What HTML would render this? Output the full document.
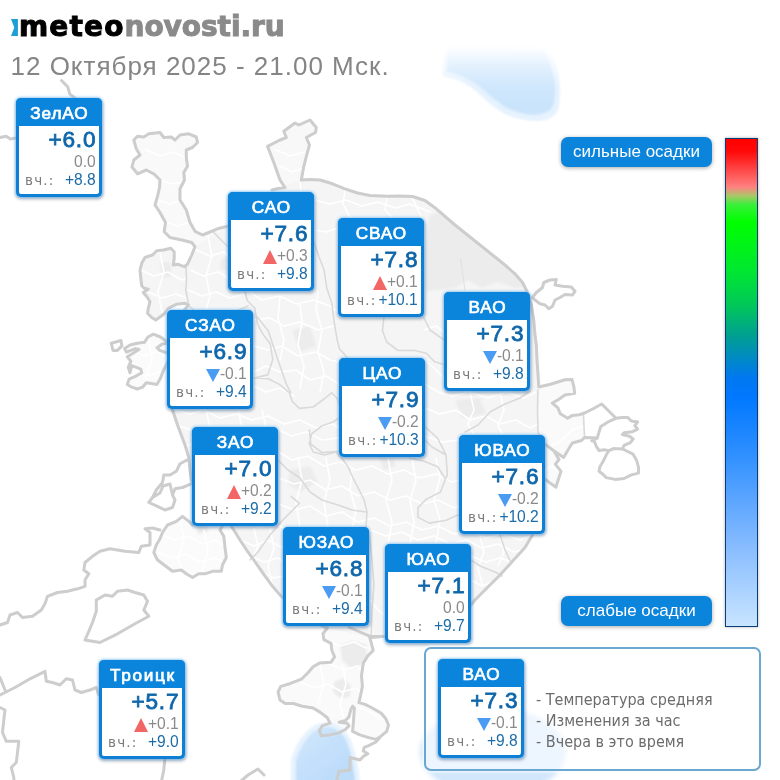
<!DOCTYPE html>
<html lang="ru">
<head>
<meta charset="utf-8">
<title>meteonovosti.ru</title>
<style>
html,body{margin:0;padding:0;background:#fff;}
#page{position:relative;width:780px;height:780px;overflow:hidden;background:#fff;font-family:"Liberation Sans",sans-serif;}
#map{position:absolute;left:0;top:0;}
.logo{position:absolute;left:10px;top:8.6px;height:36px;line-height:36px;font-family:"DejaVu Sans","Liberation Sans",sans-serif;font-size:28px;font-weight:bold;white-space:nowrap;letter-spacing:.36px;}
.logo .lg{position:absolute;left:1px;top:10.8px;}
.logo .m1{color:#000;margin-left:9px;letter-spacing:1.15px;-webkit-text-stroke:1px #000;}
.logo .m2{color:#8a8a8a;letter-spacing:-.05px;-webkit-text-stroke:1px #8a8a8a;}
.date{position:absolute;left:10.5px;top:50px;font-size:26px;line-height:32px;color:#858585;white-space:nowrap;letter-spacing:1px;}
.card{position:absolute;width:86px;height:99px;box-sizing:border-box;background:#fff;border:3px solid #0d80d6;border-top-width:0;border-radius:5px;box-shadow:0 0 2.5px 0.5px rgba(120,190,245,.7),.5px 2px 3.5px rgba(0,10,40,.33);}
.card .hd{position:absolute;left:-3px;top:0;width:86px;height:27.5px;background:#0b84dc;border-radius:5px 5px 0 0;color:#fff;font-size:17.2px;line-height:30.3px;text-align:center;-webkit-text-stroke:0.7px #fff;letter-spacing:.9px;text-indent:.9px;}
.card .t{position:absolute;right:2.6px;top:28.5px;font-size:22.6px;font-weight:normal;color:#0e66aa;-webkit-text-stroke:0.8px #0e66aa;line-height:26px;white-space:nowrap;letter-spacing:.85px;}
.card .c{position:absolute;right:3.5px;top:55.2px;font-size:15.6px;color:#8a8a8a;line-height:18px;white-space:nowrap;letter-spacing:-.1px;}
.card .y{position:absolute;left:0;right:3.5px;top:73.2px;font-size:15.6px;line-height:18px;white-space:nowrap;text-align:right;letter-spacing:-.1px;}
.card .y em{position:absolute;left:6px;top:-.5px;font-style:normal;font-family:"DejaVu Sans","Liberation Sans",sans-serif;font-size:13.5px;letter-spacing:1.2px;color:#7c7c7c;}
.card .y b{font-weight:normal;color:#1b6ca8;}
.tri{display:inline-block;width:0;height:0;border-left:7px solid transparent;border-right:7px solid transparent;vertical-align:-2.6px;margin-right:.5px;}
.tri.up{border-bottom:14px solid #f26666;}
.tri.down{border-top:13.5px solid #4a9cf2;vertical-align:-3px;margin-right:0;}
.btn{position:absolute;left:561px;width:151px;height:30px;border-radius:7px;background:#0b84dc;color:#fff;font-size:17px;line-height:30px;text-align:center;box-shadow:0 1px 4px rgba(0,0,0,.35);}
.bar{position:absolute;left:725px;top:138px;width:33px;height:489px;box-sizing:border-box;border:1px solid #0a3c78;background:linear-gradient(to bottom,#ff0000 0%,#ff0808 2.5%,#ff8080 9.8%,#a8c868 11.7%,#38f038 13.5%,#00ff00 17%,#00e830 27%,#00c858 34%,#00a090 40.3%,#0088c8 45.4%,#0078f0 49%,#0078ff 53%,#3090ff 65%,#80b8ff 82%,#c8e4ff 100%);box-shadow:0 0 3px rgba(0,0,0,.3);}
.legend{position:absolute;left:424px;top:647px;width:337px;height:124px;box-sizing:border-box;border:2px solid #6aa7d1;border-radius:7px;background:rgba(255,255,255,.6);box-shadow:0 0 3px 1px rgba(255,255,255,.9);}
.legend .lt{position:absolute;left:110px;font-size:16px;line-height:20px;color:#6c6c6c;white-space:nowrap;font-family:"DejaVu Sans Condensed","DejaVu Sans","Liberation Sans",sans-serif;}

</style>
</head>
<body>
<div id="page">
<svg id="map" width="780" height="780" viewBox="0 0 780 780">
<defs><filter id="b6" x="-30%" y="-30%" width="160%" height="160%"><feGaussianBlur stdDeviation="5"/></filter><filter id="b3" x="-30%" y="-30%" width="160%" height="160%"><feGaussianBlur stdDeviation="2.5"/></filter><filter id="b1" x="-5%" y="-5%" width="110%" height="110%"><feGaussianBlur stdDeviation="0.45"/></filter><filter id="b08" x="-10%" y="-10%" width="120%" height="120%"><feGaussianBlur stdDeviation="0.9"/></filter><linearGradient id="gtop" gradientUnits="userSpaceOnUse" x1="0" y1="46" x2="0" y2="104"><stop offset="0" stop-color="#d6ebfd" stop-opacity="0"/><stop offset="0.3" stop-color="#d8ecfd" stop-opacity="0.5"/><stop offset="0.7" stop-color="#d0e7fc" stop-opacity="1"/><stop offset="1" stop-color="#cae4fc"/></linearGradient><linearGradient id="gbot" gradientUnits="userSpaceOnUse" x1="300" y1="725" x2="345" y2="780"><stop offset="0" stop-color="#d3e8fc"/><stop offset="0.5" stop-color="#c4e0fb"/><stop offset="1" stop-color="#bcdcfa"/></linearGradient><linearGradient id="grim" gradientUnits="userSpaceOnUse" x1="0" y1="50" x2="0" y2="84"><stop offset="0" stop-color="#e8f3fe" stop-opacity="0"/><stop offset="1" stop-color="#e6f2fe" stop-opacity="1"/></linearGradient></defs>
<clipPath id="cityclip"><path d="M272.0 190.0 L278.0 188.5 L285.0 187.5 L280.0 180.0 L273.8 162.5 L267.5 146.3 L280.0 140.0 L286.3 137.5 L283.8 131.3 L295.0 123.0 L298.8 125.0 L310.0 120.0 L316.3 127.5 L315.5 132.5 L306.3 137.5 L309.5 145.0 L307.0 153.8 L303.8 166.3 L301.3 180.0 L301.3 180.0 L310.0 179.5 L320.0 180.0 L332.5 183.8 L345.0 188.8 L357.5 193.0 L370.0 195.5 L387.5 196.3 L400.0 196.0 L412.5 196.5 L425.0 200.5 L436.3 208.8 L445.0 216.3 L455.0 225.0 L467.5 235.0 L480.0 245.0 L492.5 255.0 L505.0 265.0 L515.0 273.8 L522.5 282.5 L527.5 292.5 L531.3 305.0 L533.8 320.0 L535.0 335.0 L536.3 345.0 L537.0 360.0 L538.0 374.4 L538.8 387.0 L538.8 387.0 L550.5 384.2 L564.9 379.7 L572.0 379.4 L573.9 386.9 L574.7 393.2 L564.9 395.0 L558.6 399.5 L552.3 403.0 L557.7 407.6 L560.4 413.8 L567.6 418.3 L572.0 415.6 L579.2 414.7 L584.6 413.0 L584.6 437.5 L581.5 440.5 L572.3 443.0 L568.2 449.7 L563.6 457.4 L553.8 450.8 L545.6 444.6 L553.8 450.8 L559.0 459.5 L555.4 464.1 L561.0 471.3 L558.0 480.5 L555.9 487.2 L550.8 483.6 L545.6 479.5 L545.6 479.5 L545.0 500.0 L540.0 520.0 L532.5 535.0 L532.5 535.0 L525.0 547.5 L512.5 561.3 L500.0 575.0 L487.5 587.5 L475.0 600.0 L471.0 605.0 L465.0 612.0 L450.0 622.0 L430.0 630.0 L410.0 635.0 L385.0 636.3 L371.3 637.5 L369.6 637.1 L371.4 643.3 L373.2 650.5 L367.8 655.9 L363.3 663.1 L361.5 675.6 L362.4 686.4 L360.6 695.4 L358.9 702.6 L365.1 704.4 L372.3 708.0 L381.3 713.3 L385.8 718.7 L388.5 725.0 L386.7 731.3 L380.4 736.7 L375.9 739.4 L368.7 737.6 L359.8 734.9 L352.6 731.3 L352.6 731.3 L353.5 720.5 L354.4 708.0 L352.6 706.2 L350.8 709.7 L349.0 716.9 L345.4 720.5 L339.1 722.3 L347.2 723.2 L349.0 725.9 L345.4 729.5 L338.2 733.1 L329.2 734.9 L321.2 735.8 L319.4 730.4 L322.1 725.9 L330.1 723.2 L327.4 717.8 L320.3 712.4 L313.1 708.0 L302.3 706.2 L293.3 703.5 L285.3 703.5 L279.9 699.9 L278.1 691.8 L280.8 686.4 L289.7 683.7 L301.4 679.2 L307.7 673.0 L313.1 666.7 L319.4 663.1 L331.0 662.2 L334.6 656.8 L331.9 650.5 L331.0 643.3 L323.9 639.7 L323.0 633.5 L327.4 628.1 L327.4 628.1 L310.0 620.0 L295.0 609.0 L280.0 595.0 L272.5 586.3 L262.5 572.5 L253.8 560.0 L247.5 551.3 L240.0 540.0 L233.8 530.0 L226.0 518.0 L226.0 518.0 L215.0 505.0 L200.0 492.0 L191.3 480.0 L190.0 470.0 L188.8 457.5 L185.0 445.0 L177.5 425.0 L172.5 410.0 L170.0 395.0 L169.0 370.0 L172.0 345.0 L178.0 325.0 L183.0 312.0 L188.3 305.0 L188.3 305.0 L185.0 303.3 L176.7 304.2 L168.3 308.3 L164.0 314.0 L161.7 315.8 L155.8 320.0 L151.7 317.5 L147.5 313.3 L148.3 308.3 L150.0 301.7 L147.5 297.5 L143.3 292.5 L148.3 289.2 L144.2 288.3 L141.7 285.8 L140.8 278.3 L140.0 270.0 L141.7 263.3 L145.0 257.5 L152.5 255.0 L156.7 250.8 L163.3 250.0 L170.8 248.3 L174.2 251.7 L174.2 258.3 L173.3 265.0 L177.5 264.2 L184.2 266.7 L187.5 264.2 L191.7 255.0 L195.0 246.7 L195.0 246.7 L191.7 242.5 L181.7 240.0 L170.0 237.5 L164.2 231.7 L165.5 222.5 L160.0 212.5 L155.0 205.0 L157.5 196.3 L159.5 187.5 L160.0 180.0 L153.8 173.8 L146.3 170.0 L137.5 173.8 L132.0 167.0 L133.8 160.0 L140.0 155.0 L136.3 148.8 L133.8 140.0 L137.5 136.3 L143.8 137.0 L148.8 133.8 L160.0 132.5 L163.8 137.5 L171.3 137.0 L175.0 140.0 L180.0 135.0 L188.8 133.8 L196.3 137.0 L197.5 142.5 L192.5 147.5 L186.3 150.0 L186.3 157.5 L187.5 166.3 L183.8 172.5 L184.5 180.0 L180.0 188.8 L180.0 200.0 L186.3 210.0 L190.0 222.5 L195.0 231.3 L202.5 235.0 L208.8 232.5 L217.5 228.8 L227.5 226.3 L227.5 226.3 L238.0 214.0 L250.0 203.0 L262.0 194.0 L272.0 190.0Z"/><path d="M226.0 520.0 L220.0 530.0 L223.8 536.3 L225.0 547.5 L226.3 557.5 L222.5 565.0 L221.3 571.3 L212.5 571.3 L205.0 573.8 L198.8 573.8 L192.5 577.5 L186.3 573.8 L181.3 570.0 L172.5 571.3 L167.5 567.5 L162.5 563.8 L157.5 560.0 L153.8 552.5 L156.3 545.0 L160.0 538.8 L162.5 532.5 L167.5 525.0 L176.3 521.3 L182.5 516.3 L188.8 521.3 L192.5 525.0Z"/><path d="M167.7 342.3 L160.5 337.0 L153.3 334.2 L148.0 337.0 L144.4 342.3 L137.2 343.2 L130.0 345.0 L124.6 348.6 L126.4 352.2 L135.4 348.6 L139.0 349.5 L131.8 354.0 L127.3 356.7 L130.9 361.2 L128.2 367.4 L130.0 372.8 L131.8 365.6 L140.8 369.2 L141.7 372.8 L135.4 376.4 L129.1 379.1 L127.3 384.5 L131.8 387.2 L137.2 389.0 L142.6 387.2 L146.2 382.7 L151.6 383.6 L156.9 384.5 L160.5 378.2 L163.2 371.0 L165.9 365.6 L167.7 362.0 L171.0 355.0Z"/></clipPath>
<path d="M272.0 190.0 L278.0 188.5 L285.0 187.5 L280.0 180.0 L273.8 162.5 L267.5 146.3 L280.0 140.0 L286.3 137.5 L283.8 131.3 L295.0 123.0 L298.8 125.0 L310.0 120.0 L316.3 127.5 L315.5 132.5 L306.3 137.5 L309.5 145.0 L307.0 153.8 L303.8 166.3 L301.3 180.0 L301.3 180.0 L310.0 179.5 L320.0 180.0 L332.5 183.8 L345.0 188.8 L357.5 193.0 L370.0 195.5 L387.5 196.3 L400.0 196.0 L412.5 196.5 L425.0 200.5 L436.3 208.8 L445.0 216.3 L455.0 225.0 L467.5 235.0 L480.0 245.0 L492.5 255.0 L505.0 265.0 L515.0 273.8 L522.5 282.5 L527.5 292.5 L531.3 305.0 L533.8 320.0 L535.0 335.0 L536.3 345.0 L537.0 360.0 L538.0 374.4 L538.8 387.0 L538.8 387.0 L550.5 384.2 L564.9 379.7 L572.0 379.4 L573.9 386.9 L574.7 393.2 L564.9 395.0 L558.6 399.5 L552.3 403.0 L557.7 407.6 L560.4 413.8 L567.6 418.3 L572.0 415.6 L579.2 414.7 L584.6 413.0 L584.6 437.5 L581.5 440.5 L572.3 443.0 L568.2 449.7 L563.6 457.4 L553.8 450.8 L545.6 444.6 L553.8 450.8 L559.0 459.5 L555.4 464.1 L561.0 471.3 L558.0 480.5 L555.9 487.2 L550.8 483.6 L545.6 479.5 L545.6 479.5 L545.0 500.0 L540.0 520.0 L532.5 535.0 L532.5 535.0 L525.0 547.5 L512.5 561.3 L500.0 575.0 L487.5 587.5 L475.0 600.0 L471.0 605.0 L465.0 612.0 L450.0 622.0 L430.0 630.0 L410.0 635.0 L385.0 636.3 L371.3 637.5 L369.6 637.1 L371.4 643.3 L373.2 650.5 L367.8 655.9 L363.3 663.1 L361.5 675.6 L362.4 686.4 L360.6 695.4 L358.9 702.6 L365.1 704.4 L372.3 708.0 L381.3 713.3 L385.8 718.7 L388.5 725.0 L386.7 731.3 L380.4 736.7 L375.9 739.4 L368.7 737.6 L359.8 734.9 L352.6 731.3 L352.6 731.3 L353.5 720.5 L354.4 708.0 L352.6 706.2 L350.8 709.7 L349.0 716.9 L345.4 720.5 L339.1 722.3 L347.2 723.2 L349.0 725.9 L345.4 729.5 L338.2 733.1 L329.2 734.9 L321.2 735.8 L319.4 730.4 L322.1 725.9 L330.1 723.2 L327.4 717.8 L320.3 712.4 L313.1 708.0 L302.3 706.2 L293.3 703.5 L285.3 703.5 L279.9 699.9 L278.1 691.8 L280.8 686.4 L289.7 683.7 L301.4 679.2 L307.7 673.0 L313.1 666.7 L319.4 663.1 L331.0 662.2 L334.6 656.8 L331.9 650.5 L331.0 643.3 L323.9 639.7 L323.0 633.5 L327.4 628.1 L327.4 628.1 L310.0 620.0 L295.0 609.0 L280.0 595.0 L272.5 586.3 L262.5 572.5 L253.8 560.0 L247.5 551.3 L240.0 540.0 L233.8 530.0 L226.0 518.0 L226.0 518.0 L215.0 505.0 L200.0 492.0 L191.3 480.0 L190.0 470.0 L188.8 457.5 L185.0 445.0 L177.5 425.0 L172.5 410.0 L170.0 395.0 L169.0 370.0 L172.0 345.0 L178.0 325.0 L183.0 312.0 L188.3 305.0 L188.3 305.0 L185.0 303.3 L176.7 304.2 L168.3 308.3 L164.0 314.0 L161.7 315.8 L155.8 320.0 L151.7 317.5 L147.5 313.3 L148.3 308.3 L150.0 301.7 L147.5 297.5 L143.3 292.5 L148.3 289.2 L144.2 288.3 L141.7 285.8 L140.8 278.3 L140.0 270.0 L141.7 263.3 L145.0 257.5 L152.5 255.0 L156.7 250.8 L163.3 250.0 L170.8 248.3 L174.2 251.7 L174.2 258.3 L173.3 265.0 L177.5 264.2 L184.2 266.7 L187.5 264.2 L191.7 255.0 L195.0 246.7 L195.0 246.7 L191.7 242.5 L181.7 240.0 L170.0 237.5 L164.2 231.7 L165.5 222.5 L160.0 212.5 L155.0 205.0 L157.5 196.3 L159.5 187.5 L160.0 180.0 L153.8 173.8 L146.3 170.0 L137.5 173.8 L132.0 167.0 L133.8 160.0 L140.0 155.0 L136.3 148.8 L133.8 140.0 L137.5 136.3 L143.8 137.0 L148.8 133.8 L160.0 132.5 L163.8 137.5 L171.3 137.0 L175.0 140.0 L180.0 135.0 L188.8 133.8 L196.3 137.0 L197.5 142.5 L192.5 147.5 L186.3 150.0 L186.3 157.5 L187.5 166.3 L183.8 172.5 L184.5 180.0 L180.0 188.8 L180.0 200.0 L186.3 210.0 L190.0 222.5 L195.0 231.3 L202.5 235.0 L208.8 232.5 L217.5 228.8 L227.5 226.3 L227.5 226.3 L238.0 214.0 L250.0 203.0 L262.0 194.0 L272.0 190.0Z" fill="#f5f5f5"/>
<path d="M369.6 637.1 L371.4 643.3 L373.2 650.5 L367.8 655.9 L363.3 663.1 L361.5 675.6 L362.4 686.4 L360.6 695.4 L358.9 702.6 L365.1 704.4 L372.3 708.0 L381.3 713.3 L385.8 718.7 L388.5 725.0 L386.7 731.3 L380.4 736.7 L375.9 739.4 L368.7 737.6 L359.8 734.9 L352.6 731.3 L352.6 731.3 L353.5 720.5 L354.4 708.0 L352.6 706.2 L350.8 709.7 L349.0 716.9 L345.4 720.5 L339.1 722.3 L347.2 723.2 L349.0 725.9 L345.4 729.5 L338.2 733.1 L329.2 734.9 L321.2 735.8 L319.4 730.4 L322.1 725.9 L330.1 723.2 L327.4 717.8 L320.3 712.4 L313.1 708.0 L302.3 706.2 L293.3 703.5 L285.3 703.5 L279.9 699.9 L278.1 691.8 L280.8 686.4 L289.7 683.7 L301.4 679.2 L307.7 673.0 L313.1 666.7 L319.4 663.1 L331.0 662.2 L334.6 656.8 L331.9 650.5 L331.0 643.3 L323.9 639.7 L323.0 633.5 L327.4 628.1Z" fill="#fafafa"/>
<path d="M195.0 246.7 L191.7 242.5 L181.7 240.0 L170.0 237.5 L164.2 231.7 L165.5 222.5 L160.0 212.5 L155.0 205.0 L157.5 196.3 L159.5 187.5 L160.0 180.0 L153.8 173.8 L146.3 170.0 L137.5 173.8 L132.0 167.0 L133.8 160.0 L140.0 155.0 L136.3 148.8 L133.8 140.0 L137.5 136.3 L143.8 137.0 L148.8 133.8 L160.0 132.5 L163.8 137.5 L171.3 137.0 L175.0 140.0 L180.0 135.0 L188.8 133.8 L196.3 137.0 L197.5 142.5 L192.5 147.5 L186.3 150.0 L186.3 157.5 L187.5 166.3 L183.8 172.5 L184.5 180.0 L180.0 188.8 L180.0 200.0 L186.3 210.0 L190.0 222.5 L195.0 231.3 L202.5 235.0 L208.8 232.5 L217.5 228.8 L227.5 226.3Z" fill="#f9f9f9"/>
<path d="M538.0 389.0 L538.8 387.0 L550.5 384.2 L564.9 379.7 L572.0 379.4 L573.9 386.9 L574.7 393.2 L564.9 395.0 L558.6 399.5 L552.3 403.0 L557.7 407.6 L560.4 413.8 L567.6 418.3 L572.0 415.6 L579.2 414.7 L584.6 413.0 L584.6 437.5 L581.5 440.5 L572.3 443.0 L568.2 449.7 L563.6 457.4 L553.8 450.8 L545.6 444.6 L553.8 450.8 L559.0 459.5 L555.4 464.1 L561.0 471.3 L558.0 480.5 L555.9 487.2 L550.8 483.6 L545.6 479.5 L538.0 470.0Z" fill="#fafafa"/>
<path d="M272.0 190.0 L278.0 188.5 L285.0 187.5 L280.0 180.0 L273.8 162.5 L267.5 146.3 L280.0 140.0 L286.3 137.5 L283.8 131.3 L295.0 123.0 L298.8 125.0 L310.0 120.0 L316.3 127.5 L315.5 132.5 L306.3 137.5 L309.5 145.0 L307.0 153.8 L303.8 166.3 L301.3 180.0Z" fill="#f8f8f8"/>
<path d="M226.0 520.0 L220.0 530.0 L223.8 536.3 L225.0 547.5 L226.3 557.5 L222.5 565.0 L221.3 571.3 L212.5 571.3 L205.0 573.8 L198.8 573.8 L192.5 577.5 L186.3 573.8 L181.3 570.0 L172.5 571.3 L167.5 567.5 L162.5 563.8 L157.5 560.0 L153.8 552.5 L156.3 545.0 L160.0 538.8 L162.5 532.5 L167.5 525.0 L176.3 521.3 L182.5 516.3 L188.8 521.3 L192.5 525.0Z" fill="#fbfbfb"/>
<path d="M167.7 342.3 L160.5 337.0 L153.3 334.2 L148.0 337.0 L144.4 342.3 L137.2 343.2 L130.0 345.0 L124.6 348.6 L126.4 352.2 L135.4 348.6 L139.0 349.5 L131.8 354.0 L127.3 356.7 L130.9 361.2 L128.2 367.4 L130.0 372.8 L131.8 365.6 L140.8 369.2 L141.7 372.8 L135.4 376.4 L129.1 379.1 L127.3 384.5 L131.8 387.2 L137.2 389.0 L142.6 387.2 L146.2 382.7 L151.6 383.6 L156.9 384.5 L160.5 378.2 L163.2 371.0 L165.9 365.6 L167.7 362.0 L171.0 355.0Z" fill="#fbfbfb"/>
<g id="patches" fill="#ececec" filter="url(#b08)"><path d="M429.0 216.0 L440.0 211.0 L461.0 230.0 L482.0 248.0 L503.0 265.0 L518.0 277.0 L524.0 286.0 L515.0 288.0 L498.0 282.0 L482.0 288.0 L468.0 280.0 L457.0 287.0 L445.0 289.0 L426.0 291.0 L425.0 260.0 L427.0 232.0Z"/><path d="M340.0 645.0 L352.0 641.0 L366.0 644.0 L367.0 656.0 L360.0 666.0 L350.0 668.0 L342.0 660.0Z"/><path d="M334.0 682.0 L344.0 678.0 L351.0 686.0 L350.0 697.0 L340.0 698.0 L333.0 692.0Z"/><path d="M290.0 470.0 L310.0 466.0 L318.0 482.0 L300.0 492.0 L288.0 484.0Z"/><path d="M222.0 258.0 L236.0 254.0 L242.0 266.0 L230.0 274.0 L220.0 268.0Z"/><path d="M292.0 330.0 L310.0 326.0 L316.0 346.0 L300.0 352.0Z"/><path d="M196.0 520.0 L206.0 518.0 L208.0 532.0 L198.0 534.0Z"/><path d="M378.0 455.0 L392.0 452.0 L396.0 466.0 L384.0 470.0Z"/><path d="M455.0 400.0 L480.0 398.0 L486.0 414.0 L462.0 418.0Z"/><path d="M160.0 262.0 L170.0 262.0 L172.0 276.0 L162.0 278.0Z"/></g>
<g id="wlines" clip-path="url(#cityclip)"><path d="M300.0 182.0 L302.0 200.0 L296.0 214.0 L304.0 228.0 L300.0 241.0 M314.0 200.0 L330.0 204.0 L346.0 200.0 L362.0 206.0 L378.0 202.0 L395.0 208.0 L410.0 204.0 L430.0 212.0 M345.0 190.0 L343.0 204.0 L350.0 217.0 M387.0 197.0 L385.0 210.0 L392.0 217.0 M412.0 197.0 L418.0 210.0 L424.0 222.0 M314.0 230.0 L326.0 232.0 L338.0 228.0 M250.0 292.0 L262.0 300.0 L280.0 296.0 L296.0 304.0 L314.0 300.0 L330.0 306.0 L338.0 312.0 M254.0 320.0 L270.0 318.0 L284.0 326.0 L300.0 322.0 L318.0 330.0 L334.0 326.0 M254.0 346.0 L268.0 350.0 L282.0 346.0 L298.0 356.0 L316.0 352.0 L330.0 360.0 L339.0 362.0 M254.0 372.0 L266.0 366.0 L280.0 372.0 L296.0 370.0 L310.0 380.0 L326.0 376.0 L339.0 384.0 M280.0 296.0 L278.0 318.0 L284.0 340.0 L280.0 360.0 M300.0 304.0 L302.0 322.0 L298.0 344.0 L304.0 366.0 L300.0 388.0 M318.0 292.0 L316.0 310.0 L322.0 330.0 L318.0 352.0 L324.0 372.0 L320.0 392.0 M424.0 330.0 L436.0 326.0 L444.0 332.0 M425.0 360.0 L436.0 370.0 L444.0 378.0 L444.0 391.0 M425.0 384.0 L438.0 392.0 L452.0 396.0 L470.0 392.0 L488.0 398.0 L506.0 392.0 L524.0 398.0 L536.0 392.0 M425.0 408.0 L440.0 414.0 L456.0 410.0 L470.0 420.0 L486.0 416.0 L500.0 424.0 L516.0 420.0 L530.0 428.0 L538.0 424.0 M425.0 436.0 L442.0 442.0 L459.0 440.0 M470.0 392.0 L474.0 410.0 L468.0 424.0 L474.0 435.0 M500.0 392.0 L504.0 410.0 L498.0 426.0 L503.0 435.0 M545.0 448.0 L560.0 442.0 L572.0 430.0 L584.0 426.0 M545.0 470.0 L552.0 466.0 L558.0 472.0 M538.0 300.0 L542.0 330.0 L540.0 360.0 L544.0 386.0 M279.0 430.0 L292.0 436.0 L306.0 432.0 L322.0 440.0 L339.0 438.0 M279.0 452.0 L292.0 460.0 L308.0 456.0 L324.0 466.0 L340.0 462.0 L356.0 470.0 L372.0 466.0 L388.0 474.0 L404.0 470.0 L420.0 478.0 L436.0 474.0 L452.0 482.0 L459.0 480.0 M279.0 478.0 L294.0 484.0 L310.0 480.0 L326.0 490.0 L342.0 486.0 L358.0 496.0 L374.0 492.0 L390.0 500.0 L406.0 496.0 L422.0 504.0 L438.0 500.0 L454.0 508.0 L459.0 506.0 M279.0 504.0 L294.0 510.0 L310.0 506.0 L326.0 516.0 L342.0 512.0 L358.0 522.0 L374.0 518.0 L390.0 526.0 L406.0 522.0 L422.0 530.0 L438.0 526.0 L454.0 534.0 L470.0 530.0 L486.0 538.0 L502.0 534.0 L520.0 540.0 L530.0 536.0 M370.0 530.0 L386.0 536.0 L402.0 532.0 L418.0 540.0 L434.0 536.0 L450.0 544.0 L466.0 540.0 L482.0 548.0 L498.0 544.0 L514.0 552.0 L522.0 550.0 M471.0 556.0 L486.0 562.0 L500.0 558.0 L512.0 562.0 M471.0 580.0 L482.0 586.0 L492.0 582.0 M298.0 458.0 L302.0 480.0 L296.0 502.0 L300.0 527.0 M326.0 458.0 L330.0 480.0 L324.0 502.0 L328.0 527.0 M352.0 470.0 L350.0 490.0 L356.0 510.0 L352.0 530.0 L358.0 544.0 M388.0 458.0 L392.0 480.0 L386.0 500.0 L392.0 522.0 L388.0 544.0 M412.0 458.0 L416.0 480.0 L410.0 500.0 L414.0 522.0 L410.0 544.0 M436.0 458.0 L440.0 478.0 L434.0 500.0 L440.0 520.0 L436.0 544.0 M480.0 536.0 L484.0 552.0 L478.0 568.0 L482.0 584.0 M500.0 536.0 L504.0 552.0 L498.0 566.0 M232.0 527.0 L246.0 522.0 L260.0 528.0 L274.0 522.0 L283.0 528.0 M240.0 540.0 L254.0 546.0 L268.0 540.0 L283.0 548.0 M250.0 556.0 L264.0 562.0 L278.0 558.0 L283.0 562.0 M262.0 572.0 L274.0 578.0 L283.0 576.0 M254.0 528.0 L258.0 546.0 L252.0 560.0 M270.0 528.0 L274.0 548.0 L268.0 566.0 L272.0 584.0 M178.0 426.0 L192.0 430.0 M186.0 446.0 L192.0 444.0 M176.0 410.0 L190.0 414.0 L204.0 410.0 L220.0 418.0 L236.0 414.0 L252.0 420.0 L268.0 416.0 L284.0 424.0 L300.0 420.0 L316.0 428.0 L332.0 424.0 L339.0 428.0 M206.0 410.0 L210.0 427.0 M238.0 410.0 L242.0 427.0 M262.0 410.0 L266.0 427.0 M254.0 386.0 L266.0 392.0 L280.0 388.0 L294.0 396.0 M370.0 627.0 L372.0 640.0 L384.0 640.0 M370.0 600.0 L378.0 610.0 L385.0 616.0 M327.0 640.0 L340.0 646.0 L354.0 642.0 L366.0 648.0 M330.0 664.0 L344.0 670.0 L358.0 666.0 L362.0 672.0 M300.0 682.0 L314.0 688.0 L328.0 684.0 L342.0 692.0 L356.0 688.0 L361.0 692.0 M320.0 664.0 L324.0 684.0 L318.0 704.0 M342.0 664.0 L346.0 684.0 L340.0 704.0 L344.0 720.0 M356.0 706.0 L370.0 712.0 L384.0 720.0 M140.0 270.0 L154.0 276.0 L168.0 272.0 L182.0 280.0 L186.0 278.0 M148.0 292.0 L162.0 298.0 L176.0 294.0 L186.0 298.0 M160.0 252.0 L164.0 272.0 L158.0 292.0 L162.0 312.0 M160.0 180.0 L172.0 184.0 L182.0 182.0 M158.0 200.0 L170.0 204.0 L182.0 200.0 M166.0 222.0 L178.0 226.0 L190.0 222.0 M146.0 150.0 L160.0 156.0 L174.0 152.0 L186.0 158.0 M276.0 150.0 L290.0 156.0 L304.0 152.0 M280.0 166.0 L292.0 172.0 L304.0 168.0 M230.0 226.0 L246.0 232.0 L262.0 228.0 L274.0 236.0 L290.0 232.0 L300.0 238.0 M196.0 250.0 L210.0 256.0 L224.0 252.0 L228.0 256.0 M190.0 270.0 L204.0 276.0 L218.0 272.0 L228.0 278.0 M188.0 290.0 L202.0 296.0 L216.0 292.0 L230.0 298.0 L244.0 294.0 M208.0 236.0 L212.0 256.0 L206.0 276.0 L210.0 296.0 L206.0 310.0 M160.0 534.0 L174.0 540.0 L188.0 536.0 L202.0 544.0 L216.0 540.0 L224.0 546.0 M158.0 552.0 L172.0 558.0 L186.0 554.0 L200.0 562.0 L214.0 558.0 L224.0 562.0 M180.0 520.0 L184.0 540.0 L178.0 558.0 L182.0 570.0 M204.0 530.0 L208.0 550.0 L202.0 572.0 M130.0 350.0 L144.0 356.0 L158.0 352.0 L167.0 358.0 M132.0 370.0 L146.0 376.0 L160.0 372.0 L166.0 376.0 M148.0 338.0 L152.0 358.0 L146.0 378.0 L150.0 386.0" fill="none" stroke="#ffffff" stroke-width="1.6" stroke-linejoin="round" stroke-linecap="round"/></g>
<g id="glines"><path d="M213.8 232.6 L228.0 246.7 M244.6 290.3 L247.2 300.5 L254.9 308.2 L257.4 323.6 L262.6 333.8 L270.3 344.1 L272.8 359.5 L267.7 374.9 L257.0 377.3 M313.8 241.5 L319.0 257.0 L324.0 269.7 L326.7 287.7 L331.8 303.0 L334.4 323.6 L337.0 339.0 L339.5 349.0 L344.6 354.4 L347.2 358.0 M253.0 378.0 L268.2 378.7 L279.5 384.4 L289.4 392.8 L292.2 401.3 L299.2 408.4 L313.3 407.0 L324.6 398.5 L331.7 392.8 L337.3 398.5 L339.0 405.0 M339.0 418.0 L333.0 422.0 L321.8 426.0 L311.9 433.7 L309.1 443.6 L313.3 452.0 L324.6 454.9 L335.9 452.0 L341.5 457.7 L348.6 467.6 L352.8 477.5 L358.5 488.7 L364.1 500.0 L367.0 512.0 L366.0 527.0 L370.0 540.0 L372.0 560.0 L374.0 585.0 L372.0 610.0 L371.0 636.0 M383.9 316.7 L382.5 330.8 L386.7 342.0 L398.0 350.5 L414.9 350.5 L426.2 353.3 L434.7 361.8 L444.0 364.6 M257.0 316.7 L268.2 330.8 L273.9 347.7 L279.5 364.6 L286.5 384.4 L290.8 392.8 M424.8 426.7 L437.5 438.0 L446.0 454.9 L447.3 474.6 L440.5 492.0 L426.4 499.1 L418.0 507.6 L418.0 517.4 L429.3 523.1 L446.2 520.3 L459.0 514.6 M425.0 440.0 L432.0 447.0 L446.0 455.0 M409.5 458.2 L423.6 461.0 L437.7 466.7 L444.8 478.0 M309.4 430.0 L310.8 444.0 L322.0 452.6 L339.0 451.2 M291.0 496.3 L299.5 503.3 L282.6 520.3 L270.0 535.0 L258.0 552.0 L250.0 560.0 M500.0 535.0 L505.0 550.0 L511.0 562.5 M424.0 318.0 L430.0 330.0 L444.0 340.0 M530.0 391.0 L520.0 398.0 L505.0 404.0 L490.0 412.0 L478.0 425.0 L465.0 432.0 M471.0 560.0 L480.0 566.0 L495.0 572.0 L502.0 576.0 M278.0 460.0 L288.0 470.0 L300.0 478.0 L310.0 492.0 L322.0 500.0 L338.0 505.0 L352.0 510.0 L366.0 512.0 M188.0 305.0 L196.0 312.0 L210.0 316.0 L230.0 314.0 L248.0 306.0 M186.0 266.0 L186.5 280.0 L185.8 290.0 L188.5 304.0 M537.9 390.0 L537.5 410.0 L538.0 432.0 L545.0 444.0 M583.4 415.0 L584.6 437.5" fill="none" stroke="#dadada" stroke-width="1.6" stroke-linejoin="round" stroke-linecap="round"/></g>
<path d="M460.5 258.0 L463.0 275.0 L465.0 291.0" fill="none" stroke="#dcdcdc" stroke-width="0.8"/>
<g id="precip"><path d="M443 40 L540 40 Q553 50 558 72 Q562 96 558 110 Q554 120 538 121 Q518 121 503 113 Q489 104 477 92 Q464 80 446 77 L443 76 Z" fill="url(#grim)" filter="url(#b08)"/><path d="M447 40 L536 40 Q548 52 553 73 Q557 92 553 106 Q549 114 534 115 Q519 114 505 107 Q491 97 478 85 Q463 75 447 71.5 Z" fill="url(#gtop)" filter="url(#b08)"/><path d="M291 790 L291 760 Q296 742 306 732 Q316 722 328 722 Q342 724 350 738 Q358 756 361 790 Z" fill="#e6f2fe" filter="url(#b08)"/><path d="M296 790 L296 760 Q301 745 310 735 Q319 726 329 727 Q340 729 346 740 Q353 756 356 790 Z" fill="url(#gbot)" filter="url(#b08)"/><ellipse cx="493" cy="752" rx="73" ry="44" fill="#d2e6fc" filter="url(#b3)"/></g>
<path d="M272.0 190.0 L278.0 188.5 L285.0 187.5 L280.0 180.0 L273.8 162.5 L267.5 146.3 L280.0 140.0 L286.3 137.5 L283.8 131.3 L295.0 123.0 L298.8 125.0 L310.0 120.0 L316.3 127.5 L315.5 132.5 L306.3 137.5 L309.5 145.0 L307.0 153.8 L303.8 166.3 L301.3 180.0 M301.3 180.0 L310.0 179.5 L320.0 180.0 L332.5 183.8 L345.0 188.8 L357.5 193.0 L370.0 195.5 L387.5 196.3 L400.0 196.0 L412.5 196.5 L425.0 200.5 L436.3 208.8 L445.0 216.3 L455.0 225.0 L467.5 235.0 L480.0 245.0 L492.5 255.0 L505.0 265.0 L515.0 273.8 L522.5 282.5 L527.5 292.5 L531.3 305.0 L533.8 320.0 L535.0 335.0 L536.3 345.0 L537.0 360.0 L538.0 374.4 L538.8 387.0 M538.8 387.0 L550.5 384.2 L564.9 379.7 L572.0 379.4 L573.9 386.9 L574.7 393.2 L564.9 395.0 L558.6 399.5 L552.3 403.0 L557.7 407.6 L560.4 413.8 L567.6 418.3 L572.0 415.6 L579.2 414.7 L584.6 413.0 L593.6 408.5 L601.7 404.0 L608.0 410.3 L616.0 418.3 L622.3 417.4 L627.7 417.4 L631.3 421.0 L637.6 421.9 L634.9 425.5 L637.6 429.1 L632.2 431.8 L624.1 432.7 L622.3 434.5 L629.5 436.3 L633.1 439.0 L630.4 442.6 L624.1 445.3 L622.3 448.9 L627.7 451.5 L633.1 454.2 L636.7 460.5 L638.5 467.7 L638.5 473.1 L631.3 474.9 L624.1 478.5 L615.1 479.4 L606.2 477.6 L602.6 474.0 L599.0 471.3 L599.9 466.8 L602.6 462.3 L606.2 455.1 L608.9 450.6 L604.4 449.7 L599.0 450.6 L596.3 446.2 L594.5 441.7 L591.8 440.8 L597.2 438.1 L584.6 437.5 L581.5 440.5 L572.3 443.0 L568.2 449.7 L563.6 457.4 L553.8 450.8 L545.6 444.6 M597.2 438.1 L600.8 426.4 L608.0 421.9 L616.0 418.3 M608.9 450.6 L614.0 448.5 L622.3 448.9 M553.8 450.8 L559.0 459.5 L555.4 464.1 L561.0 471.3 L558.0 480.5 L555.9 487.2 L550.8 483.6 L545.6 479.5 M532.5 535.0 L525.0 547.5 L512.5 561.3 L500.0 575.0 L487.5 587.5 L475.0 600.0 L471.0 605.0 L465.0 612.0 L450.0 622.0 L430.0 630.0 L410.0 635.0 L385.0 636.3 L371.3 637.5 M369.6 637.1 L371.4 643.3 L373.2 650.5 L367.8 655.9 L363.3 663.1 L361.5 675.6 L362.4 686.4 L360.6 695.4 L358.9 702.6 L365.1 704.4 L372.3 708.0 L381.3 713.3 L385.8 718.7 L388.5 725.0 L386.7 731.3 L380.4 736.7 L375.9 739.4 L368.7 737.6 L359.8 734.9 L352.6 731.3 M352.6 731.3 L353.5 720.5 L354.4 708.0 L352.6 706.2 L350.8 709.7 L349.0 716.9 L345.4 720.5 L339.1 722.3 L347.2 723.2 L349.0 725.9 L345.4 729.5 L338.2 733.1 L329.2 734.9 L321.2 735.8 L319.4 730.4 L322.1 725.9 L330.1 723.2 L327.4 717.8 L320.3 712.4 L313.1 708.0 L302.3 706.2 L293.3 703.5 L285.3 703.5 L279.9 699.9 L278.1 691.8 L280.8 686.4 L289.7 683.7 L301.4 679.2 L307.7 673.0 L313.1 666.7 L319.4 663.1 L331.0 662.2 L334.6 656.8 L331.9 650.5 L331.0 643.3 L323.9 639.7 L323.0 633.5 L327.4 628.1 M349.0 627.2 L360.0 632.0 L369.6 636.2 L385.0 636.5 M327.4 628.1 L310.0 620.0 L295.0 609.0 L280.0 595.0 L272.5 586.3 L262.5 572.5 L253.8 560.0 L247.5 551.3 L240.0 540.0 L233.8 530.0 L226.0 518.0 M226.0 520.0 L220.0 530.0 L223.8 536.3 L225.0 547.5 L226.3 557.5 L222.5 565.0 L221.3 571.3 L212.5 571.3 L205.0 573.8 L198.8 573.8 L192.5 577.5 L186.3 573.8 L181.3 570.0 L172.5 571.3 L167.5 567.5 L162.5 563.8 L157.5 560.0 L153.8 552.5 L156.3 545.0 L160.0 538.8 L162.5 532.5 L167.5 525.0 L176.3 521.3 L182.5 516.3 L188.8 521.3 L192.5 525.0 M160.0 530.0 L152.5 528.0 L145.0 528.8 L150.0 532.5 L150.0 545.0 L141.3 546.3 L138.8 552.5 L125.0 551.3 L110.0 548.8 L100.0 551.3 L92.5 556.3 L85.0 562.5 L83.8 570.0 L88.8 573.8 L85.0 580.0 L85.0 586.3 L77.5 588.8 L67.5 591.3 L57.5 592.5 L47.5 596.3 L45.0 603.8 L41.3 610.0 L32.5 616.3 L22.5 617.5 L17.5 612.5 L10.0 615.0 L7.5 622.5 L0.0 625.0 M226.0 518.0 L215.0 505.0 L200.0 492.0 L191.3 480.0 L190.0 470.0 L188.8 457.5 L185.0 445.0 L177.5 425.0 L172.5 410.0 L170.0 395.0 L169.0 370.0 L172.0 345.0 L178.0 325.0 L183.0 312.0 L188.3 305.0 M188.8 459.0 L180.0 463.8 L176.3 471.3 L170.0 475.0 L163.8 475.0 L162.5 482.5 L156.3 490.0 L152.5 497.5 L148.8 502.5 L157.5 506.3 L165.0 510.0 L172.5 507.5 L175.0 500.0 L172.5 495.0 L175.0 488.8 L182.5 487.5 L191.0 483.8 M152.5 497.5 L160.0 493.0 L163.0 486.0 L170.0 484.0 L172.5 495.0 M167.7 342.3 L160.5 337.0 L153.3 334.2 L148.0 337.0 L144.4 342.3 L137.2 343.2 L130.0 345.0 L124.6 348.6 L126.4 352.2 L135.4 348.6 L139.0 349.5 L131.8 354.0 L127.3 356.7 L130.9 361.2 L128.2 367.4 L130.0 372.8 L131.8 365.6 L140.8 369.2 L141.7 372.8 L135.4 376.4 L129.1 379.1 L127.3 384.5 L131.8 387.2 L137.2 389.0 L142.6 387.2 L146.2 382.7 L151.6 383.6 L156.9 384.5 L160.5 378.2 L163.2 371.0 L165.9 365.6 L167.7 362.0 L171.0 355.0 M167.7 353.0 L159.7 350.4 L157.0 347.7 L162.3 344.1 L167.7 343.2 M111.2 343.2 L121.0 340.5 L121.9 345.9 L117.4 350.4 L113.0 350.4 L111.2 343.2 M188.3 305.0 L185.0 303.3 L176.7 304.2 L168.3 308.3 L164.0 314.0 L161.7 315.8 L155.8 320.0 L151.7 317.5 L147.5 313.3 L148.3 308.3 L150.0 301.7 L147.5 297.5 L143.3 292.5 L148.3 289.2 L144.2 288.3 L141.7 285.8 L140.8 278.3 L140.0 270.0 L141.7 263.3 L145.0 257.5 L152.5 255.0 L156.7 250.8 L163.3 250.0 L170.8 248.3 L174.2 251.7 L174.2 258.3 L173.3 265.0 L177.5 264.2 L184.2 266.7 L187.5 264.2 L191.7 255.0 L195.0 246.7 M195.0 246.7 L191.7 242.5 L181.7 240.0 L170.0 237.5 L164.2 231.7 L165.5 222.5 L160.0 212.5 L155.0 205.0 L157.5 196.3 L159.5 187.5 L160.0 180.0 L153.8 173.8 L146.3 170.0 L137.5 173.8 L132.0 167.0 L133.8 160.0 L140.0 155.0 L136.3 148.8 L133.8 140.0 L137.5 136.3 L143.8 137.0 L148.8 133.8 L160.0 132.5 L163.8 137.5 L171.3 137.0 L175.0 140.0 L180.0 135.0 L188.8 133.8 L196.3 137.0 L197.5 142.5 L192.5 147.5 L186.3 150.0 L186.3 157.5 L187.5 166.3 L183.8 172.5 L184.5 180.0 L180.0 188.8 L180.0 200.0 L186.3 210.0 L190.0 222.5 L195.0 231.3 L202.5 235.0 L208.8 232.5 L217.5 228.8 L227.5 226.3 M532.5 297.5 L536.3 292.5 L542.5 287.5 L543.8 282.5 L550.0 280.0 L556.3 279.5 L555.0 285.0 L562.5 286.3 L571.3 287.0 L575.0 291.3 L572.5 295.0 L565.0 294.5 L560.0 297.5 L555.0 300.0 L552.5 306.3 L548.8 308.8 L545.0 305.0 L540.0 303.8 L535.0 300.0 L532.5 297.5 M96.3 600.0 L105.0 595.0 L112.5 596.3 L117.5 591.3 L127.5 590.0 L135.0 592.5 L143.8 595.0 L147.5 601.3 L143.8 610.0 L148.8 616.3 L135.0 623.8 L117.5 633.8 L100.0 642.5 L92.5 641.3 L85.0 640.0 L88.8 631.3 L92.5 622.5 L96.3 611.3 L96.3 600.0 M0.0 695.0 L15.0 687.5 L30.0 678.8 L45.0 671.3 L46.3 681.3 L52.5 682.5 L60.0 685.0 L66.3 678.8 L72.5 680.0 L75.0 690.0 L81.3 692.5 L90.0 690.0 L96.3 687.5 L98.8 695.0 L102.0 697.0 M0.0 677.5 L5.0 690.0 M0.0 707.5 L5.0 710.0 L3.8 720.0 L2.5 732.5 L6.3 741.3 L18.8 741.3 L17.5 752.5 L16.3 762.5 L11.3 767.5 L13.8 777.5 L14.0 782.0 M165.0 757.0 L163.8 770.0 L161.3 782.0 M380.4 736.7 L375.9 742.0 L368.7 745.7 L364.2 747.4 L363.3 751.0 L367.8 753.7 L363.3 756.4 L360.0 760.0 L350.0 757.5 L350.0 770.0 L338.8 771.3 L336.3 782.0 M240.0 782.0 L248.0 775.0 L258.0 769.0 L264.0 775.0 M61.5 80.5 L67.7 86.7 L69.7 93.8 L74.9 98.0 M0.0 137.5 L6.2 136.3 L10.3 139.0 L16.4 138.0" fill="none" stroke="#cdcdcd" stroke-width="3" stroke-linejoin="round" stroke-linecap="round" filter="url(#b1)"/>
</svg>
<div class="logo"><svg class="lg" width="8" height="17" viewBox="0 0 8 17"><path d="M0 0H6.9V17H0L3.3 8.5Z" fill="#1b9fd4"/></svg><span class="m1">meteo</span><span class="m2">novosti.ru</span></div>
<div class="date">12 Октября 2025 - 21.00 Мск.</div>
<div class="card" style="left:16px;top:98px"><div class="hd">ЗелАО</div><div class="t">+6.0</div><div class="c"><span>0.0</span></div><div class="y"><em>вч.:</em><b>+8.8</b></div></div><div class="card" style="left:228px;top:192px"><div class="hd">САО</div><div class="t">+7.6</div><div class="c"><i class="tri up"></i><span>+0.3</span></div><div class="y"><em>вч.:</em><b>+9.8</b></div></div><div class="card" style="left:338px;top:218px"><div class="hd">СВАО</div><div class="t">+7.8</div><div class="c"><i class="tri up"></i><span>+0.1</span></div><div class="y"><em>вч.:</em><b>+10.1</b></div></div><div class="card" style="left:444px;top:292px"><div class="hd">ВАО</div><div class="t">+7.3</div><div class="c"><i class="tri down"></i><span>-0.1</span></div><div class="y"><em>вч.:</em><b>+9.8</b></div></div><div class="card" style="left:167px;top:310px"><div class="hd">СЗАО</div><div class="t">+6.9</div><div class="c"><i class="tri down"></i><span>-0.1</span></div><div class="y"><em>вч.:</em><b>+9.4</b></div></div><div class="card" style="left:339px;top:358px"><div class="hd">ЦАО</div><div class="t">+7.9</div><div class="c"><i class="tri down"></i><span>-0.2</span></div><div class="y"><em>вч.:</em><b>+10.3</b></div></div><div class="card" style="left:192px;top:427px"><div class="hd">ЗАО</div><div class="t">+7.0</div><div class="c"><i class="tri up"></i><span>+0.2</span></div><div class="y"><em>вч.:</em><b>+9.2</b></div></div><div class="card" style="left:459px;top:435px"><div class="hd">ЮВАО</div><div class="t">+7.6</div><div class="c"><i class="tri down"></i><span>-0.2</span></div><div class="y"><em>вч.:</em><b>+10.2</b></div></div><div class="card" style="left:283px;top:527px"><div class="hd">ЮЗАО</div><div class="t">+6.8</div><div class="c"><i class="tri down"></i><span>-0.1</span></div><div class="y"><em>вч.:</em><b>+9.4</b></div></div><div class="card" style="left:385px;top:544px"><div class="hd">ЮАО</div><div class="t">+7.1</div><div class="c"><span>0.0</span></div><div class="y"><em>вч.:</em><b>+9.7</b></div></div><div class="card" style="left:99px;top:660px"><div class="hd" style="letter-spacing:1.7px;text-indent:1.7px">Троицк</div><div class="t">+5.7</div><div class="c"><i class="tri up"></i><span>+0.1</span></div><div class="y"><em>вч.:</em><b>+9.0</b></div></div>
<div class="btn" style="top:137px">сильные осадки</div>
<div class="btn" style="top:596px">слабые осадки</div>
<div class="bar"></div>
<div class="legend">
<div class="lt" style="top:40.6px">- Температура средняя</div>
<div class="lt" style="top:61.6px">- Изменения за час</div>
<div class="lt" style="top:82.6px">- Вчера в это время</div>
</div>
<div class="card" style="left:438px;top:659px"><div class="hd">ВАО</div><div class="t">+7.3</div><div class="c"><i class="tri down"></i><span>-0.1</span></div><div class="y"><em>вч.:</em><b>+9.8</b></div></div>
</div>
</body>
</html>
